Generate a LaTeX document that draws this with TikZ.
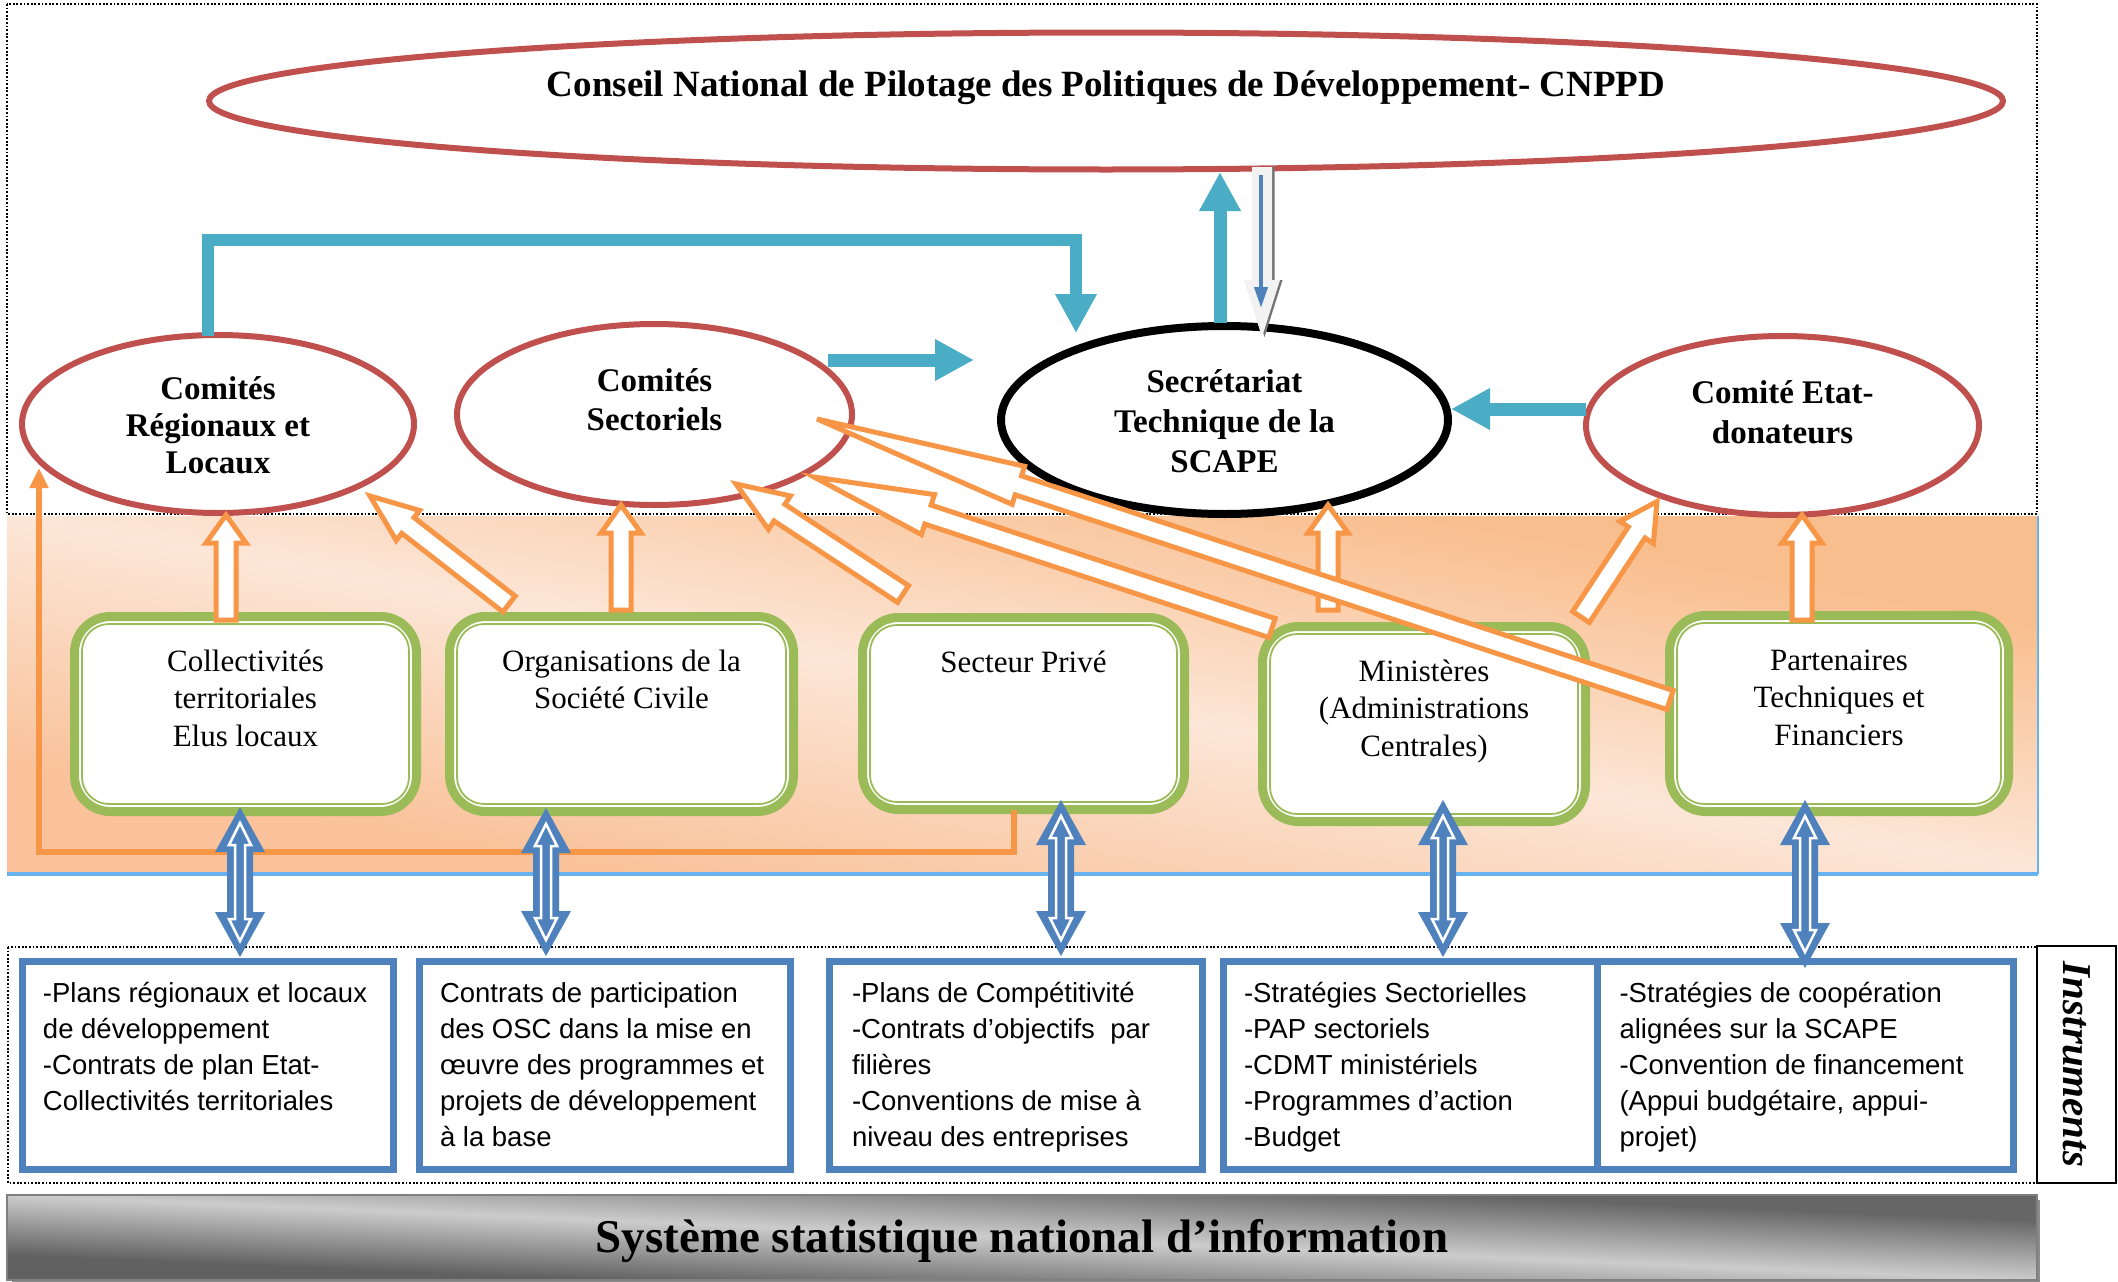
\documentclass[tikz,border=0pt]{standalone}
\usepackage{fontspec}
\setmainfont{Liberation Serif}
\newfontfamily\arialfont{Liberation Sans}
\usetikzlibrary{calc,shapes.geometric,arrows.meta}

\definecolor{cred}{HTML}{C0504D}
\definecolor{cteal}{HTML}{4BACC6}
\definecolor{corange}{HTML}{F79646}
\definecolor{cgreen}{HTML}{9BBB59}
\definecolor{cblue}{HTML}{4F81BD}
\definecolor{bandD}{HTML}{F9BE8E}
\definecolor{bandB}{HTML}{F9C29A}
\definecolor{bandL}{HTML}{FCE6D7}
\definecolor{lblue}{HTML}{66B3EF}
\definecolor{lgray}{HTML}{F2F2F2}

% single block arrow: style, tail, tip, half shaft, half head, head length
\newcommand\blockarrow[6]{%
  \coordinate (bat) at (#2);
  \coordinate (bah) at (#3);
  \coordinate (bab) at ($(bah)!#6!(bat)$);
  \path[#1] ($(bat)!#4!90:(bah)$) -- ($(bab)!#4!90:(bah)$) -- ($(bab)!#5!90:(bah)$) -- (bah)
     -- ($(bab)!#5!-90:(bah)$) -- ($(bab)!#4!-90:(bah)$) -- ($(bat)!#4!-90:(bah)$) -- cycle;
}
% double block arrow
\newcommand\dblarrow[6]{%
  \coordinate (dat) at (#2);
  \coordinate (dab) at (#3);
  \coordinate (dha) at ($(dat)!#6!(dab)$);
  \coordinate (dhb) at ($(dab)!#6!(dat)$);
  \path[#1] (dat) -- ($(dha)!#5!90:(dab)$) -- ($(dha)!#4!90:(dab)$) -- ($(dhb)!#4!-90:(dat)$)
     -- ($(dhb)!#5!-90:(dat)$) -- (dab) -- ($(dhb)!#5!90:(dat)$) -- ($(dhb)!#4!90:(dat)$)
     -- ($(dha)!#4!-90:(dab)$) -- ($(dha)!#5!-90:(dab)$) -- cycle;
}
\newcommand\bluedbl[2]{%
  \dblarrow{fill=cblue}{#1}{#2}{13pt}{25pt}{45pt}
  \dblarrow{draw=white, line width=2.5pt, fill=cblue, line join=miter}{$(dat)!16pt!(dab)$}{$(dab)!16pt!(dat)$}{5pt}{11pt}{22pt}
}
\newcommand\etext[3]{\raisebox{#1}[0pt][0pt]{\makebox[0pt]{\parbox[b]{400pt}{\centering\fontsize{33}{#2}\selectfont\bfseries #3}}}}
\newcommand\gtext[3]{\parbox[c][#2][t]{#1}{\centering\fontsize{31}{37.5}\selectfont\rule{0pt}{54.5pt}#3}}
\newcommand\btext[3]{\parbox[c][208pt][t]{#1}{\raggedright\leftskip=#2\arialfont\fontsize{27.5}{36}\selectfont\rule{0pt}{40.5pt}#3}}

\begin{document}
\begin{tikzpicture}[x=1pt,y=-1pt,
  redell/.style={ellipse, draw=cred, line width=6pt, fill=white, inner sep=0pt, outer sep=0pt},
  gbox/.style={rectangle, draw=cgreen, line width=9pt, rounded corners=36pt, fill=white, inner sep=0pt, outer sep=0pt},
  ginner/.style={draw=cgreen, line width=1.8pt, rounded corners=27pt},
  bbox/.style={rectangle, draw=cblue, line width=7pt, fill=white, inner sep=0pt, outer sep=0pt},
  orarrow/.style={draw=corange, line width=5pt, fill=white, line join=miter},
  tealarrow/.style={draw=cteal, line width=13pt, -{Triangle[width=39pt,length=39pt]}},
  dotbox/.style={draw=black, line width=1.8pt, dash pattern=on 1.8pt off 1.8pt},
]
\useasboundingbox (0,0) rectangle (2118,1282);
\fill[white] (0,0) rectangle (2118,1282);

% orange band (gradient along the box diagonal)
\begin{scope}[transform canvas={shift={(7pt,-516pt)}, xscale=20.3, yscale=3.55}]
  \shade[top color=bandD, bottom color=bandB, middle color=bandL, shading angle=-45] (0,0) rectangle (100,100);
\end{scope}
\draw[lblue, line width=4pt] (7,873.5) -- (2038,873.5);
\draw[lblue, line width=1.2pt] (2038,516) -- (2038,873.5);

% dotted frames
\draw[dotbox] (7,4) rectangle (2037,514);
\draw[dotbox] (8,947) rectangle (2037,1183);

% ellipses
\node[redell, minimum width=1794pt, minimum height=137pt] (CNPPD) at (1106,101)
  {\raisebox{5pt}[0pt][0pt]{\makebox[0pt]{\fontsize{37}{44}\selectfont\bfseries Conseil National de Pilotage des Politiques de Développement- CNPPD}}};
\node[redell, minimum width=392pt, minimum height=178pt] (CRL) at (218,424) {\etext{-49pt}{37pt}{Comités\\Régionaux et\\Locaux}};
\node[redell, minimum width=395pt, minimum height=181pt] (CS) at (654.5,414.5) {\etext{-15.5pt}{39pt}{Comités\\Sectoriels}};
\node[redell, draw=black, line width=8pt, minimum width=447pt, minimum height=188pt] (SEC) at (1224.5,420) {\etext{-52pt}{40pt}{Secrétariat\\Technique de la\\SCAPE}};
\node[redell, minimum width=393pt, minimum height=179pt] (CED) at (1782.5,425.5) {\etext{-17.5pt}{40pt}{Comité Etat-\\donateurs}};

% teal arrows
\draw[tealarrow, line width=12pt, line join=miter] ($(CRL.center)+(-10,-88)$) -- ++(0,-96) -| ($(SEC.center)+(-148.5,-87)$);
\draw[tealarrow] ($(CS.center)+(173.5,-54.5)$) -- ($(SEC.center)+(-250.5,-60)$);
\draw[tealarrow] ($(SEC.center)+(-4.5,-97)$) -- ($(CNPPD.center)+(114,71)$);
\draw[tealarrow] ($(CED.center)+(-196.5,-16.5)$) -- ($(SEC.center)+(226.5,-11)$);

% grey down arrow
\blockarrow{fill=black!55}{$(CNPPD.center)+(158.5,66)$}{$(SEC.center)+(40,-83)$}{10pt}{18pt}{57pt}
\blockarrow{fill=lgray}{$(CNPPD.center)+(156,66)$}{$(SEC.center)+(37.5,-83)$}{10pt}{18pt}{57pt}
\draw[cblue, line width=4pt, -{Triangle[width=13pt,length=21pt]}] ($(CNPPD.center)+(155,74)$) -- ($(SEC.center)+(36.5,-112)$);

% green boxes
\node[gbox] (B1) at (245.5,714) {\gtext{342pt}{195pt}{Collectivités\\territoriales\\Elus locaux}};
\node[gbox] (B2) at (621.5,714) {\gtext{344pt}{195pt}{Organisations de la\\Société Civile}};
\node[gbox] (B3) at (1023.5,713.5) {\gtext{322pt}{192pt}{Secteur Privé}};
\node[gbox] (B4) at (1424,724) {\gtext{323pt}{195pt}{Ministères\\(Administrations\\Centrales)}};
\node[gbox] (B5) at (1839,713.5) {\gtext{339pt}{196pt}{Partenaires\\Techniques et\\Financiers}};
\foreach \bx in {B1,B2,B3,B4,B5}
  \draw[ginner] ($(\bx.north west)+(7.5,7.5)$) rectangle ($(\bx.south east)+(-7.5,-7.5)$);

% orange block arrows
\blockarrow{orarrow}{$(B1.center)+(-19.5,-94)$}{$(CRL.center)+(8,91)$}{10pt}{20pt}{28pt}
\blockarrow{orarrow}{$(B2.center)+(-112.5,-110)$}{$(CRL.center)+(152,72)$}{10pt}{19pt}{48pt}
\blockarrow{orarrow}{$(B2.center)+(-0.5,-104)$}{$(CS.center)+(-33.5,90.5)$}{10pt}{20pt}{28pt}
\blockarrow{orarrow}{$(B3.center)+(-120.5,-119.5)$}{$(CS.center)+(81.5,69.5)$}{10pt}{20pt}{52pt}
\blockarrow{orarrow}{$(B4.center)+(-96,-114)$}{$(SEC.center)+(103.5,85)$}{10pt}{20pt}{28pt}
\blockarrow{orarrow}{$(B4.center)+(-152,-96)$}{$(CS.center)+(159.5,62.5)$}{10pt}{21pt}{120pt}
\blockarrow{orarrow}{$(B5.center)+(-169,-13.5)$}{$(CS.center)+(162.5,4.5)$}{10pt}{20pt}{212pt}
\blockarrow{orarrow}{$(B5.center)+(-258,-96.5)$}{$(CED.center)+(-125.5,76)$}{10pt}{20pt}{37pt}
\blockarrow{orarrow}{$(B5.center)+(-37,-93.5)$}{$(CED.center)+(19.5,89.5)$}{10pt}{20pt}{28pt}

% orange elbow line
\draw[corange, line width=5.5pt, line join=miter, -{Triangle[width=18pt,length=20pt]}]
  ($(B3.center)+(-9.5,96.5)$) -- ++(0,42) -| ($(CRL.center)+(-179,44)$);

% blue instrument boxes
\node[bbox] (BB1) at (208,1065.5) {\btext{371pt}{20.5pt}{-Plans régionaux et locaux\\de développement\\-Contrats de plan Etat-\\Collectivités territoriales}};
\node[bbox] (BB2) at (605,1065.5) {\btext{371pt}{20.5pt}{Contrats de participation\\des OSC dans la mise en\\œuvre des programmes et\\projets de développement\\à la base}};
\node[bbox] (BB3) at (1016,1065.5) {\btext{373pt}{22.5pt}{-Plans de Compétitivité\\-Contrats d’objectifs\ \ par\\filières\\-Conventions de mise à\\niveau des entreprises}};
\node[bbox] (BB4) at (1410.25,1065.5) {\btext{373.5pt}{20.5pt}{-Stratégies Sectorielles\\-PAP sectoriels\\-CDMT ministériels\\-Programmes d’action\\-Budget}};
\node[bbox] (BB5) at (1805.25,1065.5) {\btext{416.5pt}{22.5pt}{-Stratégies de coopération\\alignées sur la SCAPE\\-Convention de financement\\(Appui budgétaire, appui-\\projet)}};

% blue double arrows
\bluedbl{$(B1.center)+(-5.5,93)$}{$(BB1.center)+(32,-108.5)$}
\bluedbl{$(B2.center)+(-75.5,94)$}{$(BB2.center)+(-59,-109.5)$}
\bluedbl{$(B3.center)+(37.5,86.5)$}{$(BB3.center)+(45,-109.5)$}
\bluedbl{$(B4.center)+(19,76)$}{$(BB4.center)+(32.75,-108.5)$}
\bluedbl{$(B5.center)+(-34,86.5)$}{$(BB5.center)+(-0.25,-97.5)$}

% Instruments label
\node[draw=black, line width=2pt, rotate=-90, minimum width=237pt, minimum height=79pt, inner sep=0pt,
  font=\fontsize{41}{45}\selectfont\bfseries\itshape] (INS) at (2076.5,1064.5) {Instruments};

% bottom grey bar
\fill[black!45] (12,1200) rectangle (2040,1283);
\begin{scope}[transform canvas={shift={(7pt,-1195pt)}, xscale=20.3, yscale=0.85}]
  \shade[top color=black!60, bottom color=black!62, middle color=black!20, shading angle=-45] (0,0) rectangle (100,100);
\end{scope}
\draw[black!50, line width=1.5pt] (7,1195) rectangle (2037,1280);
\node[inner sep=0pt] (SSN) at (1022,1237.5)
  {\raisebox{-14.5pt}[0pt][0pt]{\makebox[0pt]{\fontsize{47}{56}\selectfont\bfseries Système statistique national d’information}}};
\end{tikzpicture}
\end{document}
